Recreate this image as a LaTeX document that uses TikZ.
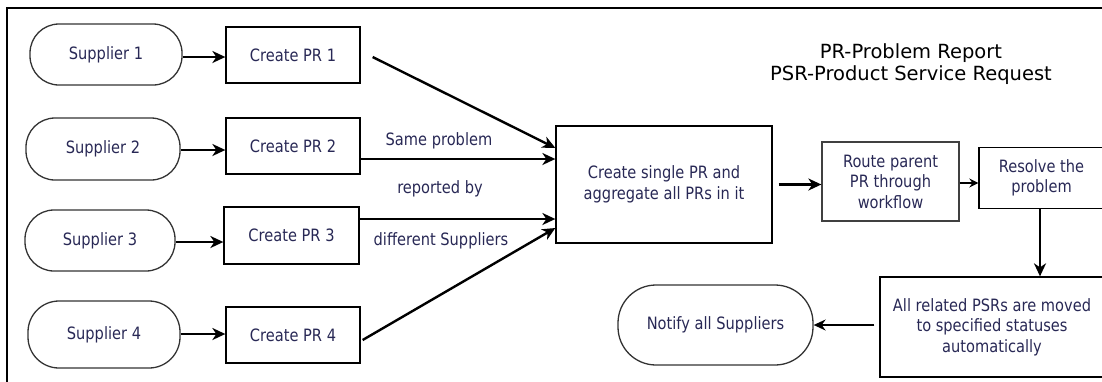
\documentclass[tikz,border=0pt]{standalone}
\usepackage{fontspec}
\setmainfont{DejaVu Sans}[FakeStretch=0.86]
\newfontfamily\legendfont{DejaVu Sans}
\usetikzlibrary{arrows.meta}
\definecolor{txt}{RGB}{40,40,85}
\begin{document}
\begin{tikzpicture}[x=1pt,y=-1pt,
  box/.style={draw=black,line width=1.3pt,text=txt,align=center,
    font=\fontsize{17}{20.5}\selectfont,inner sep=0pt},
  sup/.style={box,draw=black!80,rounded corners=29pt},
  lbl/.style={text=txt,font=\fontsize{17}{20.5}\selectfont,inner sep=0pt},
  arr/.style={line width=2.4pt,-{Stealth[length=13pt,width=12pt,inset=4pt]}},
  arrthin/.style={line width=1.8pt,-{Stealth[length=12pt,width=11pt,inset=4pt]}}]
\useasboundingbox (0,0) rectangle (1102,381);
\clip (0,0) rectangle (1102,381);
\draw[line width=2pt] (7,385) -- (7,8) -- (1106,8);

\node[sup,minimum width=152pt,minimum height=61pt] (s1) at (106,54.5) {Supplier 1};
\node[sup,minimum width=154pt,minimum height=62pt] (s2) at (103,149) {Supplier 2};
\node[sup,minimum width=150pt,minimum height=61pt] (s3) at (100,240.5) {Supplier 3};
\node[sup,minimum width=152pt,minimum height=67pt,rounded corners=31pt] (s4) at (104,334.5) {Supplier 4};

\node[box,minimum width=134pt,minimum height=56pt] (p1) at (293,55) {Create PR 1};
\node[box,minimum width=134pt,minimum height=56pt] (p2) at (293,146) {Create PR 2};
\node[box,minimum width=135pt,minimum height=57pt] (p3) at (291.5,235.5) {Create PR 3};
\node[box,minimum width=134pt,minimum height=56pt] (p4) at (293,335) {Create PR 4};

\node[box,minimum width=216pt,minimum height=117pt] (c) at (664,184.5) {Create single PR and\\aggregate all PRs in it};
\node[box,minimum width=137pt,minimum height=79pt,draw=black!75] (route) at (890.5,181.5) {Route parent\\PR through\\workflow};
\node[box,minimum width=125pt,minimum height=61pt] (res) at (1041.5,178) {Resolve the\\problem};
\node[box,minimum width=224pt,minimum height=100pt] (all) at (992,327) {All related PSRs are moved\\to specified statuses\\automatically};
\node[sup,minimum width=195pt,minimum height=80pt,rounded corners=38pt] (nt) at (715.5,325) {Notify all Suppliers};

\node[inner sep=0pt,align=center,font=\legendfont\fontsize{19.5}{22}\selectfont] (leg) at (911,64) {PR-Problem Report\\PSR-Product Service Request};

\node[lbl] (l1) at (439,141) {Same problem};
\node[lbl] (l2) at (440,189) {reported by};
\node[lbl] (l3) at (441,241) {different Suppliers};

\draw[arr] (s1.east |- 0,57) -- (p1.west |- 0,57);
\draw[arr] (s2.east |- 0,150) -- (p2.west |- 0,150);
\draw[arr] (s3.east |- 0,242) -- (p3.west |- 0,242);
\draw[arr] (s4.east |- 0,334) -- (p4.west |- 0,334);

\draw[arr] ([xshift=12pt,yshift=-2pt]p1.east) -- ([yshift=36.5pt]c.west);
\draw[arr] ([yshift=-13pt]p2.east) -- ([yshift=25.5pt]c.west);
\draw[arr] ([yshift=16.5pt]p3.east) -- ([yshift=-34.5pt]c.west);
\draw[arr] ([xshift=2pt,yshift=-5pt]p4.east) -- ([yshift=-43.5pt]c.west);

\draw[arr] ([xshift=6pt]c.east) -- (c.east -| route.west);
\draw[arr,-{Stealth[length=9pt,width=9pt,inset=3pt]}] ([yshift=-1.5pt]route.east) -- ([yshift=-1.5pt]route.east -| res.west);
\draw[arr] ([xshift=-1.5pt]res.south) -- ([xshift=-1.5pt]res.south |- all.north);
\draw[arrthin] ([xshift=-5pt,yshift=2pt]all.west) -- (nt.east);
\end{tikzpicture}
\end{document}
